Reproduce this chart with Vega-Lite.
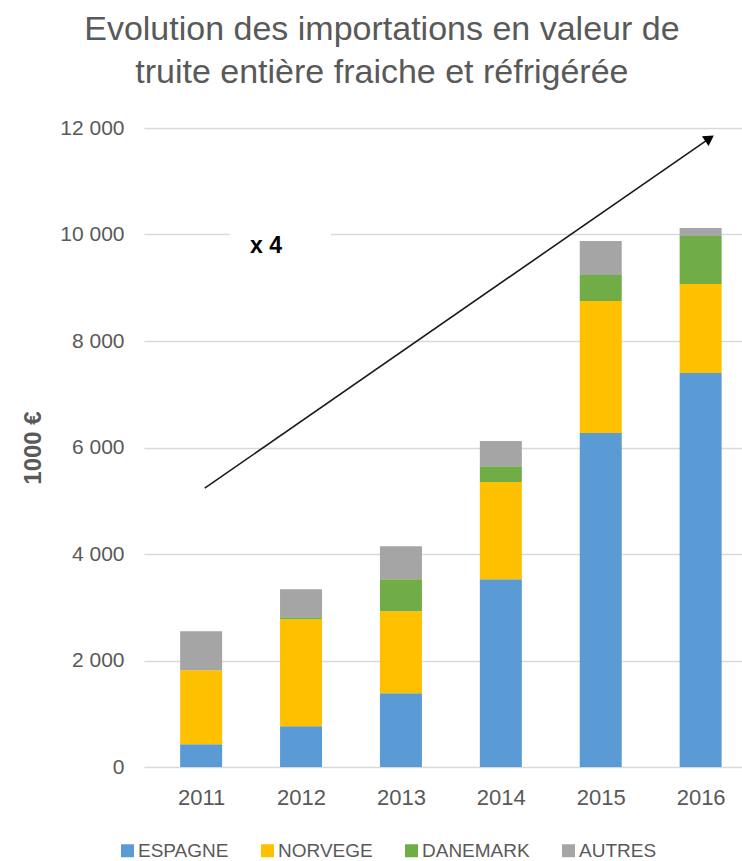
{
  "$schema": "https://vega.github.io/schema/vega-lite/v6.json",
  "width": 598,
  "height": 639,
  "autosize": {"type": "none"},
  "padding": {"left": 144, "top": 128, "right": 0, "bottom": 94},
  "background": "white",
  "config": {
    "font": "Liberation Sans",
    "view": {"stroke": null}
  },
  "title": {
    "text": ["Evolution des importations en valeur de", "truite entière fraiche et réfrigérée"],
    "fontSize": 34,
    "fontWeight": "normal",
    "color": "#595959",
    "lineHeight": 43,
    "anchor": "middle",
    "frame": "bounds",
    "offset": 27
  },
  "datasets": {
    "imports": [
      {"annee": 2011, "pays": "ESPAGNE", "k": 1, "valeur": 427},
      {"annee": 2011, "pays": "NORVEGE", "k": 2, "valeur": 1390},
      {"annee": 2011, "pays": "DANEMARK", "k": 3, "valeur": 0},
      {"annee": 2011, "pays": "AUTRES", "k": 4, "valeur": 733},
      {"annee": 2012, "pays": "ESPAGNE", "k": 1, "valeur": 765},
      {"annee": 2012, "pays": "NORVEGE", "k": 2, "valeur": 2010},
      {"annee": 2012, "pays": "DANEMARK", "k": 3, "valeur": 38},
      {"annee": 2012, "pays": "AUTRES", "k": 4, "valeur": 526},
      {"annee": 2013, "pays": "ESPAGNE", "k": 1, "valeur": 1385},
      {"annee": 2013, "pays": "NORVEGE", "k": 2, "valeur": 1541},
      {"annee": 2013, "pays": "DANEMARK", "k": 3, "valeur": 601},
      {"annee": 2013, "pays": "AUTRES", "k": 4, "valeur": 620},
      {"annee": 2014, "pays": "ESPAGNE", "k": 1, "valeur": 3527},
      {"annee": 2014, "pays": "NORVEGE", "k": 2, "valeur": 1823},
      {"annee": 2014, "pays": "DANEMARK", "k": 3, "valeur": 300},
      {"annee": 2014, "pays": "AUTRES", "k": 4, "valeur": 470},
      {"annee": 2015, "pays": "ESPAGNE", "k": 1, "valeur": 6270},
      {"annee": 2015, "pays": "NORVEGE", "k": 2, "valeur": 2480},
      {"annee": 2015, "pays": "DANEMARK", "k": 3, "valeur": 489},
      {"annee": 2015, "pays": "AUTRES", "k": 4, "valeur": 639},
      {"annee": 2016, "pays": "ESPAGNE", "k": 1, "valeur": 7397},
      {"annee": 2016, "pays": "NORVEGE", "k": 2, "valeur": 1673},
      {"annee": 2016, "pays": "DANEMARK", "k": 3, "valeur": 902},
      {"annee": 2016, "pays": "AUTRES", "k": 4, "valeur": 150}
    ],
    "fleche": [
      {"x": 2011.036, "y": 5237},
      {"x": 2016.089, "y": 11806}
    ],
    "pointe": [
      {"x": 2016.089, "y": 11806}
    ],
    "note": [
      {"x": 2011.65, "y": 9775, "x1": 2011.285, "x2": 2012.30, "y1": 9483, "y2": 10122, "label": "x 4"}
    ]
  },
  "layer": [
    {
      "data": {"name": "imports"},
      "mark": {"type": "bar", "size": 42},
      "encoding": {
        "x": {
          "field": "annee",
          "type": "quantitative",
          "scale": {"domain": [2010.478, 2016.364], "nice": false, "zero": false},
          "axis": {
            "values": [2011, 2012, 2013, 2014, 2015, 2016],
            "format": "d",
            "title": null,
            "grid": false,
            "domain": false,
            "ticks": false,
            "labelFontSize": 22,
            "labelColor": "#595959",
            "labelPadding": 20
          }
        },
        "y": {
          "field": "valeur",
          "type": "quantitative",
          "stack": "zero",
          "scale": {"domain": [0, 12000], "nice": false},
          "axis": {
            "values": [0, 2000, 4000, 6000, 8000, 10000, 12000],
            "labelExpr": "replace(format(datum.value, ','), ',', ' ')",
            "title": "1000 €",
            "titleFontSize": 24,
            "titleFontWeight": "bold",
            "titleColor": "#595959",
            "titlePadding": 14,
            "grid": true,
            "gridColor": "#D9D9D9",
            "gridWidth": 1.5,
            "domain": false,
            "ticks": false,
            "labelFontSize": 21,
            "labelColor": "#595959",
            "labelPadding": 20
          }
        },
        "color": {
          "field": "pays",
          "type": "nominal",
          "scale": {
            "domain": ["ESPAGNE", "NORVEGE", "DANEMARK", "AUTRES"],
            "range": ["#5B9BD5", "#FFC000", "#70AD47", "#A5A5A5"]
          },
          "legend": {
            "title": null,
            "orient": "none",
            "direction": "horizontal",
            "legendX": -26,
            "legendY": 713,
            "padding": 0,
            "symbolType": "square",
            "symbolSize": 169,
            "symbolStrokeWidth": 0,
            "symbolOpacity": 1,
            "labelFontSize": 19,
            "labelColor": "#595959",
            "labelOffset": 1,
            "columnPadding": 29
          }
        },
        "order": {"field": "k", "type": "quantitative"}
      }
    },
    {
      "data": {"name": "note"},
      "mark": {"type": "rect", "fill": "white", "stroke": null},
      "encoding": {
        "x": {"field": "x1", "type": "quantitative", "scale": {"domain": [2010.478, 2016.364], "nice": false, "zero": false}},
        "x2": {"field": "x2"},
        "y": {"field": "y1", "type": "quantitative", "scale": {"domain": [0, 12000], "nice": false}},
        "y2": {"field": "y2"}
      }
    },
    {
      "data": {"name": "fleche"},
      "mark": {"type": "line", "color": "#1a1a1a", "strokeWidth": 1.6},
      "encoding": {
        "x": {"field": "x", "type": "quantitative", "scale": {"domain": [2010.478, 2016.364], "nice": false, "zero": false}},
        "y": {"field": "y", "type": "quantitative", "scale": {"domain": [0, 12000], "nice": false}}
      }
    },
    {
      "data": {"name": "pointe"},
      "mark": {"type": "point", "shape": "triangle-up", "filled": true, "color": "#000000", "size": 140, "angle": 56, "opacity": 1},
      "encoding": {
        "x": {"field": "x", "type": "quantitative", "scale": {"domain": [2010.478, 2016.364], "nice": false, "zero": false}},
        "y": {"field": "y", "type": "quantitative", "scale": {"domain": [0, 12000], "nice": false}}
      }
    },
    {
      "data": {"name": "note"},
      "mark": {"type": "text", "fontSize": 23, "fontWeight": "bold", "color": "#000000", "align": "center", "baseline": "middle"},
      "encoding": {
        "x": {"field": "x", "type": "quantitative", "scale": {"domain": [2010.478, 2016.364], "nice": false, "zero": false}},
        "y": {"field": "y", "type": "quantitative", "scale": {"domain": [0, 12000], "nice": false}},
        "text": {"field": "label"}
      }
    }
  ]
}
